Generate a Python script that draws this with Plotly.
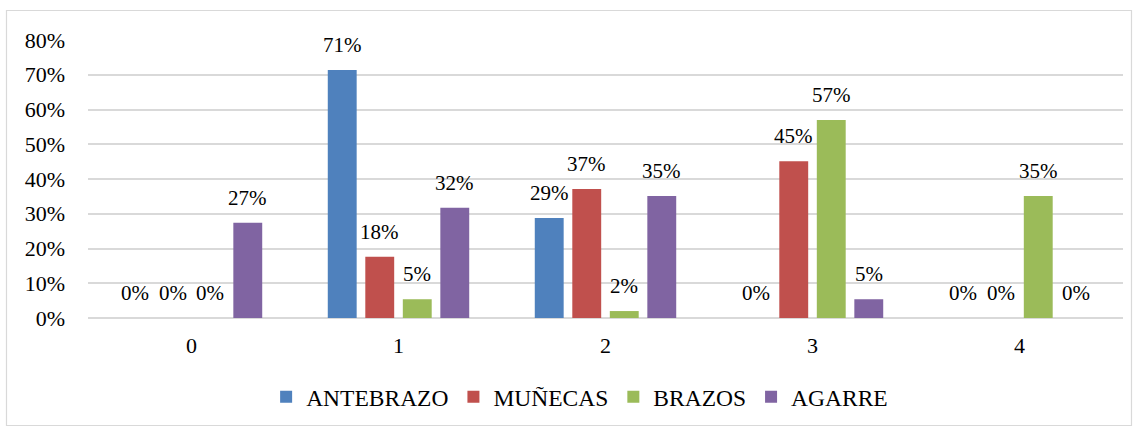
import plotly.graph_objects as go

categories = ["0", "1", "2", "3", "4"]
antebrazo = [0.0, 0.714, 0.288, 0.0, 0.0]
munecas = [0.0, 0.176, 0.371, 0.451, 0.0]
brazos = [0.0, 0.054, 0.02, 0.57, 0.351]
agarre = [0.274, 0.317, 0.351, 0.054, 0.0]

series = [
    ("ANTEBRAZO", antebrazo, "#4F81BD"),
    ("MUÑECAS", munecas, "#C0504D"),
    ("BRAZOS", brazos, "#9BBB59"),
    ("AGARRE", agarre, "#8064A2"),
]

FONT = "Liberation Serif, Times New Roman, serif"
BARGAP = 0.275
BARGROUPGAP = 0.23

fig = go.Figure()
for name, vals, color in series:
    fig.add_trace(go.Bar(
        x=categories, y=vals, name=name,
        marker=dict(color=color, line=dict(width=0)),
        hoverinfo="skip",
    ))

# data labels above each bar, placed on the axis scales
n = len(series)
slot = (1 - BARGAP) / n
for j, (name, vals, color) in enumerate(series):
    off = -(1 - BARGAP) / 2 + slot * (j + 0.5)
    for i, v in enumerate(vals):
        fig.add_annotation(
            x=i + off, y=v, xref="x", yref="y",
            text=f"{round(v * 100):.0f}%", showarrow=False,
            yanchor="bottom", xanchor="center", yshift=11,
            font=dict(family=FONT, size=21, color="#000000"),
        )

L, R, T, B = 88, 15, 40, 110
fig.update_layout(
    width=1138, height=428,
    margin=dict(l=L, r=R, t=T, b=B, autoexpand=False),
    paper_bgcolor="white", plot_bgcolor="white",
    barmode="group", bargap=BARGAP, bargroupgap=BARGROUPGAP,
    font=dict(family=FONT, size=21, color="#000000"),
    showlegend=True,
    legend=dict(
        orientation="h", x=0.475, xanchor="center", y=-0.284, yanchor="middle",
        font=dict(family=FONT, size=23.5, color="#000000"),
        itemwidth=30, bgcolor="rgba(0,0,0,0)",
    ),
    xaxis=dict(
        type="category", showgrid=False, showline=False, zeroline=False,
        ticks="", ticklabelstandoff=12, automargin=False,
        tickfont=dict(family=FONT, size=22, color="#000000"),
    ),
    yaxis=dict(
        range=[0, 0.8], dtick=0.1, tickformat=".0%",
        showgrid=True, gridcolor="#D9D9D9", gridwidth=1.5,
        zeroline=True, zerolinecolor="#D9D9D9", zerolinewidth=1.5,
        showline=False, ticks="", ticklabelstandoff=22, automargin=False,
        tickfont=dict(family=FONT, size=22, color="#000000"),
    ),
)

pw = 1138 - L - R
ph = 428 - T - B
def px_x(p):
    return (p - L) / pw
def px_y(p):
    return (428 - B - p) / ph

fig.add_shape(type="rect", xref="paper", yref="paper",
              x0=px_x(6.5), x1=px_x(1131.5), y0=px_y(425.5), y1=px_y(10.5),
              line=dict(color="#D9D9D9", width=1.2), fillcolor="rgba(0,0,0,0)", layer="below")

fig.write_html("out.html", post_script="document.body.style.margin='0px';",
               config={"displayModeBar": False})
